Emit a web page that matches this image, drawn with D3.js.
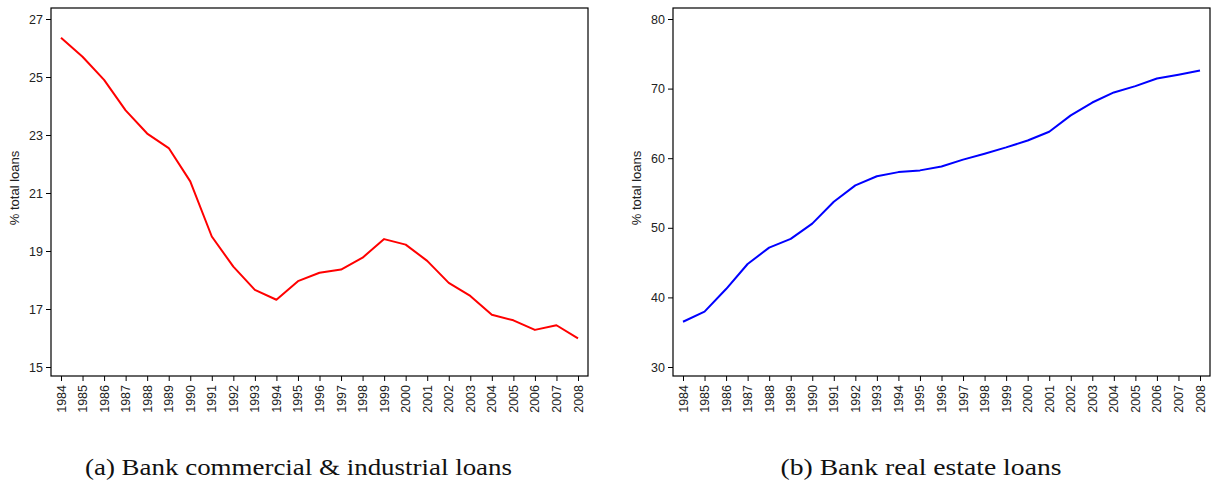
<html>
<head>
<meta charset="UTF-8"/>
<script src="https://d3js.org/d3.v7.min.js"></script>
<title>Bank loans</title>
<style>
body{ margin:0; background:#fff; }
svg{ display:block; }
.tick text{ font-family: "Liberation Sans", Arimo, sans-serif; font-size:12.5px; fill:#222; }
.tick line{ stroke:#000; }
.domain{ display:none; }
.ylab{ font-family: "Liberation Sans", Arimo, sans-serif; font-size:13px; fill:#222; }
.cap{ font-family: "Liberation Serif", "DejaVu Serif", serif; font-size:23px; fill:#111; }
</style>
</head>
<body>
<svg id='chart' width=1211 height=485></svg>
<script>
'use strict';
var years = d3.range(1984, 2009);
var ciLoans = [26.35, 25.7, 24.9, 23.85, 23.05, 22.55, 21.4, 19.5, 18.46, 17.66, 17.32, 17.96, 18.25,
               18.36, 18.77, 19.41, 19.22, 18.66, 17.9, 17.45, 16.8, 16.61, 16.28, 16.44, 15.99];
var reLoans = [36.5, 37.95, 41.2, 44.8, 47.15, 48.4, 50.6, 53.75, 56.1, 57.4, 58.0, 58.25, 58.8,
               59.8, 60.65, 61.55, 62.55, 63.8, 66.15, 68.0, 69.45, 70.35, 71.45, 72.0, 72.6];
var ciTicks = [15, 17, 19, 21, 23, 25, 27];
var reTicks = [30, 40, 50, 60, 70, 80];
var captions = ['(a) Bank commercial & industrial loans', '(b) Bank real estate loans'];

var svg = d3.select('#chart');

function panel(cfg){
    var g = svg.append('g');
    var sx = d3.scaleLinear().domain([1984, 2008]).range([cfg.x0 + 10, cfg.x1 - 10]);
    var sy = d3.scaleLinear().domain(cfg.domain).range([367, 19]);

    g.append('g').attr('transform', 'translate(0,376)')
        .call(d3.axisBottom(sx).tickValues(years).tickFormat(d3.format('d')).tickSize(5))
        .selectAll('.tick text')
        .attr('transform', 'rotate(-90)')
        .attr('text-anchor', 'end')
        .attr('dominant-baseline', 'central')
        .attr('dy', null)
        .attr('x', -9).attr('y', 0);

    g.append('g').attr('transform', 'translate(' + cfg.x0 + ',0)')
        .call(d3.axisLeft(sy).tickValues(cfg.ticks).tickSize(5).tickPadding(3));

    g.append('rect')
        .attr('x', cfg.x0).attr('y', 8)
        .attr('width', cfg.x1 - cfg.x0).attr('height', 368)
        .attr('fill', 'none').attr('stroke', '#000').attr('stroke-width', 1.2);

    g.append('path')
        .datum(cfg.values)
        .attr('fill', 'none')
        .attr('stroke', cfg.color)
        .attr('stroke-width', 2)
        .attr('stroke-linejoin', 'round')
        .attr('d', d3.line().x(function(d, i){ return sx(years[i]); }).y(function(d){ return sy(d); }));

    g.append('text').attr('class', 'ylab')
        .attr('transform', 'translate(' + (cfg.x0 - 32) + ',188) rotate(-90)')
        .attr('text-anchor', 'middle')
        .text('% total loans');

    g.append('text').attr('class', 'cap')
        .attr('x', cfg.capX).attr('y', 475)
        .attr('text-anchor', 'middle')
        .attr('textLength', cfg.capW).attr('lengthAdjust', 'spacingAndGlyphs')
        .text(cfg.caption);
}

panel({x0: 51, x1: 588, domain: [15, 27], ticks: ciTicks, values: ciLoans, color: '#ff0000',
       caption: captions[0], capX: 298.5, capW: 427});
panel({x0: 673, x1: 1210, domain: [30, 80], ticks: reTicks, values: reLoans, color: '#0000ff',
       caption: captions[1], capX: 921, capW: 281});
</script>
</body>
</html>
